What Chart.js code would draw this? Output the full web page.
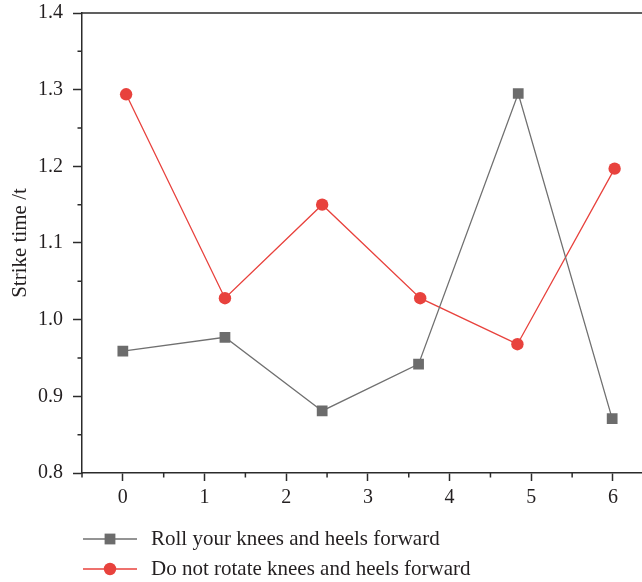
<!DOCTYPE html>
<html>
<head>
<meta charset="utf-8">
<script src="https://cdn.jsdelivr.net/npm/chart.js@4"></script>
<style>
  html, body { margin: 0; padding: 0; background: #fff; overflow: hidden; }
  canvas { display: block; }
</style>
</head>
<body>
<canvas id="c" width="650" height="582"></canvas>
<script>
// ---- data ----
const seriesNames = ["Roll your knees and heels forward", "Do not rotate knees and heels forward"];
const rollX = [0, 1.25, 2.44, 3.62, 4.84, 5.99];
const rollY = [0.959, 0.977, 0.881, 0.942, 1.295, 0.871];
const rotateX = [0.04, 1.25, 2.44, 3.64, 4.83, 6.02];
const rotateY = [1.294, 1.028, 1.150, 1.028, 0.968, 1.197];
const xTicks = [0, 1, 2, 3, 4, 5, 6];
const xMinorTicks = [-0.5, 0.5, 1.5, 2.5, 3.5, 4.5, 5.5];
const yMinorTicks = [0.85, 0.95, 1.05, 1.15, 1.25, 1.35];
const yTitle = "Strike time /t";

const FONT = "'Liberation Serif', 'Times New Roman', serif";
const AXIS = "#2b2b2b";
const TEXT = "#231f20";
const GRAY = "#6c6c6c";
const RED = "#e8423d";

const toPts = (xs, ys) => xs.map((x, i) => ({ x: x, y: ys[i] }));

const frame = {
  id: "frame",
  afterDraw(chart) {
    const { ctx, chartArea: a, scales } = chart;
    ctx.save();
    ctx.strokeStyle = AXIS;
    ctx.lineWidth = 1.5;
    // top border
    ctx.beginPath();
    ctx.moveTo(a.left - 0.75, a.top);
    ctx.lineTo(a.right, a.top);
    ctx.stroke();
    // minor ticks
    ctx.beginPath();
    xMinorTicks.forEach(v => {
      const px = scales.x.getPixelForValue(v);
      ctx.moveTo(px, a.bottom);
      ctx.lineTo(px, a.bottom + 4.5);
    });
    yMinorTicks.forEach(v => {
      const py = scales.y.getPixelForValue(v);
      ctx.moveTo(a.left, py);
      ctx.lineTo(a.left - 4.5, py);
    });
    ctx.stroke();

    // legend
    const rows = [a.bottom + 66, a.bottom + 96];
    chart.data.datasets.forEach((ds, i) => {
      const y = rows[i];
      ctx.strokeStyle = ds.borderColor;
      ctx.lineWidth = ds.borderWidth;
      ctx.beginPath();
      ctx.moveTo(83, y);
      ctx.lineTo(137, y);
      ctx.stroke();
      ctx.fillStyle = ds.pointBackgroundColor;
      if (ds.pointStyle === "rect") {
        ctx.fillRect(110 - 5.4, y - 5.4, 10.8, 10.8);
      } else {
        ctx.beginPath();
        ctx.arc(110, y, 6.2, 0, Math.PI * 2);
        ctx.fill();
      }
      ctx.fillStyle = TEXT;
      ctx.font = "21px " + FONT;
      ctx.textAlign = "left";
      ctx.textBaseline = "middle";
      ctx.fillText(ds.label, 151, y);
    });
    ctx.restore();
  }
};

new Chart(document.getElementById("c"), {
  type: "line",
  data: {
    datasets: [
      {
        label: seriesNames[0],
        data: toPts(rollX, rollY),
        borderColor: "#707070",
        borderWidth: 1.3,
        pointStyle: "rect",
        pointRadius: 7.6,
        pointBorderWidth: 0,
        pointBackgroundColor: GRAY,
        pointBorderColor: GRAY,
        tension: 0
      },
      {
        label: seriesNames[1],
        data: toPts(rotateX, rotateY),
        borderColor: RED,
        borderWidth: 1.3,
        pointStyle: "circle",
        pointRadius: 6.2,
        pointBorderWidth: 0,
        pointBackgroundColor: RED,
        pointBorderColor: RED,
        tension: 0
      }
    ]
  },
  options: {
    responsive: false,
    animation: false,
    events: [],
    layout: { padding: { top: 13, right: 0, left: 0, bottom: 69 } },
    plugins: { legend: { display: false }, tooltip: { enabled: false } },
    scales: {
      x: {
        type: "linear",
        min: -0.5,
        max: 6.36,
        afterBuildTicks: s => { s.ticks = xTicks.map(v => ({ value: v })); },
        afterFit: s => { s.height = 40; s.paddingLeft = 0; s.paddingRight = 0; },
        border: { display: true, color: AXIS, width: 1.5 },
        grid: { display: true, drawOnChartArea: false, drawTicks: true, tickLength: 8, tickColor: AXIS, tickWidth: 1.5 },
        ticks: { color: TEXT, font: { family: FONT, size: 20 }, padding: 5, maxRotation: 0, autoSkip: false }
      },
      y: {
        min: 0.8,
        max: 1.4,
        afterFit: s => { s.width = 82; s.paddingTop = 0; s.paddingBottom = 0; },
        border: { display: true, color: AXIS, width: 1.5 },
        grid: { display: true, drawOnChartArea: false, drawTicks: true, tickLength: 9, tickColor: AXIS, tickWidth: 1.5 },
        ticks: { stepSize: 0.1, color: TEXT, font: { family: FONT, size: 20 }, padding: 10, callback: v => Number(v).toFixed(1) },
        title: { display: true, text: yTitle, color: TEXT, font: { family: FONT, size: 21 }, padding: { top: 8, bottom: 0 } }
      }
    }
  },
  plugins: [frame]
});
</script>
</body>
</html>
